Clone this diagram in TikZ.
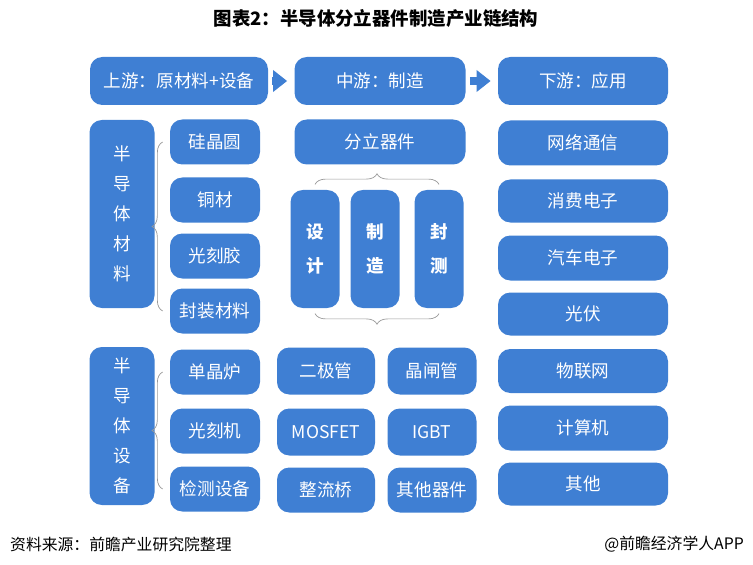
\documentclass[tikz,border=0pt]{standalone}
\usepackage{fontspec}
\setmainfont{Noto Sans CJK SC}
\usetikzlibrary{decorations.pathreplacing,arrows.meta}
\definecolor{boxblue}{HTML}{3F7FD3}
\tikzset{
  blk/.style={fill=boxblue,rounded corners=7pt,text=white,font=\fontsize{10}{12}\selectfont,inner sep=0pt},
  brc/.style={draw=gray!80,decorate,decoration={brace,amplitude=6pt}},
  arr/.style={draw=boxblue,line width=4pt,-{Triangle[length=8pt,width=12pt]}}
}
\newcommand{\blkbox}[6]{\node[blk,minimum width=#3*0.02cm,minimum height=#4*0.02cm,#6] (#1) at (#2) {#5};}
\begin{document}
\begin{tikzpicture}[x=0.02cm,y=-0.02cm]
  \useasboundingbox (0,0) rectangle (753,564);
  \node[font=\bfseries\fontsize{10.5}{12}\selectfont] (title) at (376,18) {图表2：半导体分立器件制造产业链结构};

  % top row
  \blkbox{up}{179,81}{178}{48}{上游：原材料+设备}{}
  \blkbox{mid}{380,81}{171}{48}{中游：制造}{}
  \blkbox{down}{583,81}{170}{48}{下游：应用}{}
  \draw[arr] (up.east) ++(4,0) -- ([xshift=-4]mid.west);
  \draw[arr] (mid.east) ++(4,0) -- ([xshift=-4]down.west);

  % materials
  \blkbox{mat}{122,214}{65}{188}{\shortstack{半\\[5pt]导\\[5pt]体\\[5pt]材\\[5pt]料}}{}
  \blkbox{si}{215,142}{90}{45}{硅晶圆}{}
  \blkbox{cu}{215,200}{90}{45}{铜材}{}
  \blkbox{pr}{215,256}{90}{45}{光刻胶}{}
  \blkbox{pk}{215,311}{90}{45}{封装材料}{}
  \draw[brc] ([xshift=-4]pk.west) -- ([xshift=-4]si.west);

  % equipment
  \blkbox{eq}{122,426}{65}{158}{\shortstack{半\\[5pt]导\\[5pt]体\\[5pt]设\\[5pt]备}}{}
  \blkbox{lu}{215,372}{90}{45}{单晶炉}{}
  \blkbox{lk}{215,431}{90}{45}{光刻机}{}
  \blkbox{jc}{215,489}{90}{45}{检测设备}{}
  \draw[brc] ([xshift=-4]jc.west) -- ([xshift=-4]lu.west);

  % midstream
  \blkbox{fl}{380,142}{171}{45}{分立器件}{}
  \blkbox{sj}{315,249}{49}{118}{\bfseries\shortstack{设\\[7pt]计}}{}
  \blkbox{zz}{375,249}{49}{118}{\bfseries\shortstack{制\\[7pt]造}}{}
  \blkbox{fc}{439,249}{49}{118}{\bfseries\shortstack{封\\[7pt]测}}{}
  \draw[brc] ([yshift=3]sj.north) -- ([yshift=3]fc.north);
  \draw[brc] ([yshift=-3]fc.south) -- ([yshift=-3]sj.south);
  \blkbox{ejg}{326,371}{98}{47}{二极管}{}
  \blkbox{jzg}{432,371}{89}{47}{晶闸管}{}
  \blkbox{mos}{326,432}{98}{47}{MOSFET}{}
  \blkbox{igbt}{432,432}{89}{47}{IGBT}{}
  \blkbox{zlq}{326,490}{98}{45}{整流桥}{}
  \blkbox{qt}{432,490}{89}{45}{其他器件}{}

  % downstream
  \blkbox{wl}{583,143}{170}{45}{网络通信}{}
  \blkbox{xf}{583,201}{170}{43}{消费电子}{}
  \blkbox{qc}{583,258}{170}{45}{汽车电子}{}
  \blkbox{gf}{583,314}{170}{43}{光伏}{}
  \blkbox{iot}{583,371}{170}{44}{物联网}{}
  \blkbox{pc}{583,428}{170}{45}{计算机}{}
  \blkbox{qi}{583,484}{170}{43}{其他}{}

  \node[anchor=west,font=\fontsize{9}{10}\selectfont] (src) at (4,544) {资料来源：前瞻产业研究院整理};
  \node[anchor=east,font=\fontsize{9}{10}\selectfont] (app) at (750,544) {@前瞻经济学人APP};
\end{tikzpicture}
\end{document}
